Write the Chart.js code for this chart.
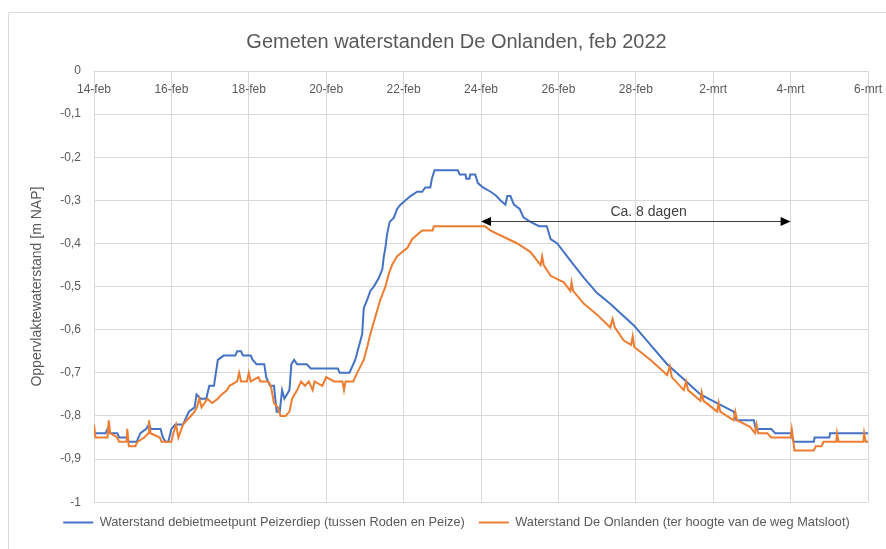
<!DOCTYPE html>
<html lang="nl">
<head>
    <meta charset="UTF-8">
    <title>Gemeten waterstanden De Onlanden</title>
    <script src="https://cdn.jsdelivr.net/npm/chart.js"></script>
    <style>
        body {
            margin: 0;
            background: #ffffff;
        }
        .chart-container {
            position: relative;
            width: 886px;
            height: 549px;
        }
    </style>
</head>
<body>
    <div class="chart-container">
        <canvas id="waterChart"></canvas>
    </div>

    <script>
        // tijd in dagen vanaf 14-feb 00:00, waterstand in m NAP
        const blueDays = [
            0.00, 0.30, 0.35, 0.40, 0.60, 0.65, 0.85, 0.90, 1.10, 1.20,
            1.35, 1.42, 1.47, 1.72, 1.78, 1.85, 1.92, 2.00, 2.10, 2.30,
            2.45, 2.60, 2.65, 2.75, 2.90, 2.98, 3.10, 3.20, 3.35, 3.65,
            3.70, 3.80, 3.85, 4.05, 4.10, 4.20, 4.40, 4.45, 4.55, 4.65,
            4.72, 4.80, 4.86, 4.92, 5.05, 5.10, 5.17, 5.25, 5.50, 5.60,
            6.30, 6.35, 6.60, 6.65, 6.75, 6.84, 6.93, 6.97, 7.06, 7.14,
            7.23, 7.36, 7.45, 7.49, 7.53, 7.57, 7.64, 7.75, 7.83, 7.92,
            8.05, 8.18, 8.35, 8.48, 8.56, 8.69, 8.73, 8.80, 9.40, 9.45,
            9.60, 9.62, 9.70, 9.72, 9.85, 9.92, 10.05, 10.25, 10.40, 10.50,
            10.63, 10.68, 10.76, 10.85, 11.00, 11.10, 11.28, 11.50, 11.70, 11.80,
            11.97, 12.31, 12.66, 13.00, 13.34, 13.52, 13.95, 14.38, 14.81, 15.24,
            15.67, 16.10, 16.53, 16.60, 17.05, 17.10, 17.50, 17.60, 18.00, 18.08,
            18.60, 18.62, 19.00, 19.02, 20.00
        ];
        const blueLevel = [
            -0.84, -0.84, -0.83, -0.84, -0.84, -0.85, -0.85, -0.86, -0.86, -0.84,
            -0.83, -0.82, -0.83, -0.83, -0.85, -0.86, -0.86, -0.83, -0.82, -0.82,
            -0.79, -0.78, -0.75, -0.76, -0.76, -0.73, -0.73, -0.67, -0.66, -0.66,
            -0.65, -0.65, -0.66, -0.66, -0.67, -0.68, -0.68, -0.71, -0.73, -0.73,
            -0.79, -0.79, -0.74, -0.76, -0.74, -0.68, -0.67, -0.68, -0.68, -0.69,
            -0.69, -0.70, -0.70, -0.69, -0.67, -0.64, -0.61, -0.55, -0.53, -0.51,
            -0.50, -0.48, -0.46, -0.43, -0.41, -0.38, -0.35, -0.34, -0.32, -0.31,
            -0.30, -0.29, -0.28, -0.28, -0.27, -0.27, -0.25, -0.23, -0.23, -0.24,
            -0.24, -0.25, -0.25, -0.24, -0.24, -0.26, -0.27, -0.28, -0.29, -0.30,
            -0.31, -0.29, -0.29, -0.31, -0.32, -0.34, -0.35, -0.36, -0.36, -0.39,
            -0.40, -0.44, -0.48, -0.515, -0.54, -0.555, -0.59, -0.635, -0.68, -0.715,
            -0.75, -0.77, -0.79, -0.81, -0.81, -0.83, -0.83, -0.84, -0.84, -0.86,
            -0.86, -0.85, -0.85, -0.84, -0.84
        ];
        const orangeDays = [
            0.00, 0.04, 0.35, 0.38, 0.42, 0.60, 0.65, 0.84, 0.86, 0.90,
            1.07, 1.12, 1.30, 1.40, 1.42, 1.46, 1.70, 1.75, 2.00, 2.05,
            2.12, 2.18, 2.30, 2.50, 2.60, 2.66, 2.72, 2.78, 2.93, 3.05,
            3.20, 3.30, 3.44, 3.50, 3.70, 3.75, 3.80, 3.95, 4.00, 4.05,
            4.25, 4.30, 4.50, 4.57, 4.65, 4.75, 4.82, 4.95, 5.05, 5.12,
            5.25, 5.35, 5.45, 5.55, 5.65, 5.70, 5.90, 6.00, 6.20, 6.42,
            6.46, 6.50, 6.70, 6.80, 6.97, 7.06, 7.14, 7.27, 7.40, 7.53,
            7.62, 7.70, 7.83, 7.96, 8.10, 8.22, 8.35, 8.48, 8.75, 8.78,
            10.10, 10.25, 10.59, 10.94, 11.28, 11.54, 11.58, 11.62, 11.80, 12.14,
            12.31, 12.34, 12.38, 12.66, 13.00, 13.34, 13.40, 13.46, 13.69, 13.88,
            13.92, 13.96, 14.38, 14.81, 14.88, 14.93, 15.24, 15.30, 15.35, 15.67,
            15.70, 15.75, 16.10, 16.14, 16.18, 16.53, 16.57, 16.62, 16.95, 17.08,
            17.12, 17.16, 17.40, 17.50, 18.00, 18.03, 18.06, 18.10, 18.60, 18.65,
            18.80, 18.85, 19.18, 19.20, 19.24, 19.88, 19.90, 19.94, 20.00
        ];
        const orangeLevel = [
            -0.82, -0.85, -0.85, -0.81, -0.84, -0.85, -0.86, -0.86, -0.83, -0.87,
            -0.87, -0.86, -0.85, -0.84, -0.81, -0.84, -0.85, -0.86, -0.86, -0.84,
            -0.82, -0.85, -0.82, -0.80, -0.79, -0.78, -0.76, -0.78, -0.76, -0.77,
            -0.76, -0.75, -0.74, -0.73, -0.72, -0.70, -0.72, -0.72, -0.70, -0.72,
            -0.71, -0.72, -0.72, -0.73, -0.77, -0.78, -0.80, -0.80, -0.79, -0.76,
            -0.74, -0.72, -0.73, -0.72, -0.74, -0.72, -0.73, -0.71, -0.72, -0.72,
            -0.74, -0.72, -0.72, -0.70, -0.67, -0.64, -0.61, -0.57, -0.53, -0.50,
            -0.47, -0.45, -0.43, -0.42, -0.41, -0.39, -0.38, -0.37, -0.37, -0.36,
            -0.36, -0.37, -0.385, -0.40, -0.42, -0.45, -0.43, -0.45, -0.475, -0.49,
            -0.51, -0.49, -0.51, -0.54, -0.565, -0.595, -0.575, -0.595, -0.625, -0.635,
            -0.615, -0.64, -0.67, -0.705, -0.685, -0.71, -0.74, -0.72, -0.74, -0.765,
            -0.745, -0.765, -0.79, -0.77, -0.79, -0.81, -0.79, -0.81, -0.825, -0.84,
            -0.82, -0.84, -0.84, -0.85, -0.85, -0.83, -0.85, -0.88, -0.88, -0.87,
            -0.87, -0.86, -0.86, -0.84, -0.86, -0.86, -0.84, -0.86, -0.86
        ];
        const xTickLabels = ['14-feb', '16-feb', '18-feb', '20-feb', '22-feb', '24-feb',
                             '26-feb', '28-feb', '2-mrt', '4-mrt', '6-mrt'];
        const yTickLabels = ['0', '-0,1', '-0,2', '-0,3', '-0,4', '-0,5',
                             '-0,6', '-0,7', '-0,8', '-0,9', '-1'];

        // pijl "Ca. 8 dagen" van 24-feb tot 4-mrt
        const arrowFrom = 10;
        const arrowTo = 18;
        const arrowLevel = -0.348;
        const arrowText = 'Ca. 8 dagen';
        const arrowTextDay = 14.33;

        Chart.defaults.font.family = '"Liberation Sans", Arial, sans-serif';
        Chart.defaults.color = '#595959';

        const frame = {
            id: 'frame',
            beforeDraw(chart) {
                const ctx = chart.ctx;
                ctx.save();
                ctx.fillStyle = '#ffffff';
                ctx.fillRect(0, 0, chart.width, chart.height);
                ctx.strokeStyle = '#d9d9d9';
                ctx.lineWidth = 1;
                ctx.beginPath();
                ctx.moveTo(8.5, chart.height);
                ctx.lineTo(8.5, 12.5);
                ctx.lineTo(chart.width, 12.5);
                ctx.stroke();
                ctx.restore();
            }
        };

        const arrow = {
            id: 'arrow',
            afterDatasetsDraw(chart) {
                const { ctx, scales } = chart;
                const x1 = scales.x.getPixelForValue(arrowFrom);
                const x2 = scales.x.getPixelForValue(arrowTo);
                const y = Math.round(scales.y.getPixelForValue(arrowLevel)) + 0.5;
                ctx.save();
                ctx.strokeStyle = '#404040';
                ctx.lineWidth = 1;
                ctx.beginPath();
                ctx.moveTo(x1 + 6, y);
                ctx.lineTo(x2 - 6, y);
                ctx.stroke();
                ctx.fillStyle = '#000000';
                ctx.beginPath();
                ctx.moveTo(x1, y);
                ctx.lineTo(x1 + 10, y - 4.5);
                ctx.lineTo(x1 + 10, y + 4.5);
                ctx.closePath();
                ctx.fill();
                ctx.beginPath();
                ctx.moveTo(x2, y);
                ctx.lineTo(x2 - 10, y - 4.5);
                ctx.lineTo(x2 - 10, y + 4.5);
                ctx.closePath();
                ctx.fill();
                ctx.fillStyle = '#404040';
                ctx.font = '14px "Liberation Sans", Arial, sans-serif';
                ctx.textAlign = 'center';
                ctx.textBaseline = 'middle';
                ctx.fillText(arrowText, scales.x.getPixelForValue(arrowTextDay), y - 9);
                ctx.restore();
            }
        };

        const ctx = document.getElementById('waterChart').getContext('2d');
        new Chart(ctx, {
            type: 'line',
            data: {
                datasets: [
                    {
                        label: 'Waterstand debietmeetpunt Peizerdiep (tussen Roden en Peize)',
                        data: blueDays.map((d, i) => ({ x: d, y: blueLevel[i] })),
                        borderColor: '#4472C4',
                        backgroundColor: '#4472C4',
                        borderWidth: 2,
                        pointRadius: 0,
                        tension: 0,
                        order: 1
                    },
                    {
                        label: 'Waterstand De Onlanden (ter hoogte van de weg Matsloot)',
                        data: orangeDays.map((d, i) => ({ x: d, y: orangeLevel[i] })),
                        borderColor: '#ED7D31',
                        backgroundColor: '#ED7D31',
                        borderWidth: 2,
                        pointRadius: 0,
                        tension: 0,
                        order: 0
                    }
                ]
            },
            options: {
                responsive: true,
                maintainAspectRatio: false,
                animation: false,
                layout: {
                    padding: { left: 45, right: 18, top: 0, bottom: 10 }
                },
                scales: {
                    x: {
                        type: 'linear',
                        position: 'top',
                        min: 0,
                        max: 20,
                        // labels onder de aslijn, binnen het plotvlak
                        afterFit: (scale) => {
                            scale.height = 0;
                            scale.paddingLeft = 0;
                            scale.paddingRight = 0;
                        },
                        grid: { color: '#d9d9d9', drawTicks: false },
                        border: { color: '#d9d9d9' },
                        ticks: {
                            stepSize: 2,
                            autoSkip: false,
                            maxRotation: 0,
                            mirror: true,
                            padding: 11,
                            font: { size: 12 },
                            callback: (value) => xTickLabels[Math.round(value / 2)]
                        }
                    },
                    y: {
                        min: -1,
                        max: 0,
                        afterFit: (scale) => { scale.width = 49; },
                        grid: { color: '#d9d9d9', drawTicks: false },
                        border: { color: '#d9d9d9' },
                        ticks: {
                            stepSize: 0.1,
                            padding: 13,
                            font: { size: 12 },
                            callback: (value) => yTickLabels[Math.round(-value * 10)]
                        },
                        title: {
                            display: true,
                            text: 'Oppervlaktewaterstand [m NAP]',
                            font: { size: 14 },
                            color: '#595959',
                            padding: { top: -16, bottom: 0 }
                        }
                    }
                },
                plugins: {
                    title: {
                        display: true,
                        text: 'Gemeten waterstanden De Onlanden, feb 2022',
                        font: { size: 20, weight: 'normal' },
                        color: '#595959',
                        padding: { top: 30, bottom: 17 }
                    },
                    legend: {
                        position: 'bottom',
                        labels: {
                            usePointStyle: true,
                            pointStyle: 'line',
                            pointStyleWidth: 30,
                            padding: 14,
                            font: { size: 12.8 },
                            color: '#595959',
                            sort: (a, b) => a.datasetIndex - b.datasetIndex
                        }
                    },
                    tooltip: { enabled: false }
                }
            },
            plugins: [frame, arrow]
        });
    </script>
</body>
</html>
